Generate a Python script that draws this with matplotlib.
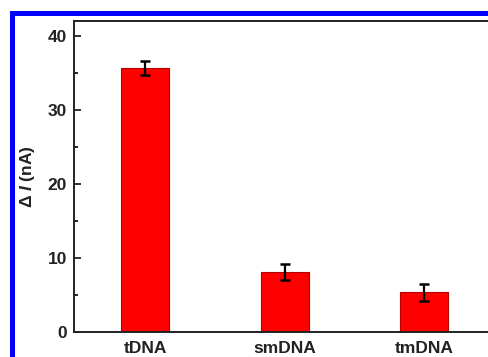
import matplotlib
matplotlib.use('Agg')
import matplotlib.pyplot as plt
from matplotlib.patches import Rectangle

# data
samples = ['tDNA', 'smDNA', 'tmDNA']
delta_i = [35.6, 8.1, 5.3]
delta_i_err = [1.0, 1.1, 1.2]

plt.rcParams['font.family'] = ['Liberation Sans', 'DejaVu Sans']
plt.rcParams['mathtext.fontset'] = 'custom'
plt.rcParams['mathtext.it'] = 'Liberation Sans:italic:bold'
plt.rcParams['mathtext.rm'] = 'Liberation Sans:bold'

fig = plt.figure(figsize=(4.88, 3.57), dpi=100)
# axes run past the right edge of the figure, like the cropped original
ax = fig.add_axes([74 / 488, 25.3 / 357, 446 / 488, 311 / 357])

x = list(range(len(samples)))
ax.bar(x, delta_i, width=0.345, color='#ff0000', edgecolor='#b00000', linewidth=0.8,
       yerr=delta_i_err, capsize=3.5, error_kw=dict(ecolor='black', elinewidth=1.6, capthick=1.8))

ax.set_xlim(-0.51, -0.51 + 446 / 139.5)
ax.set_ylim(0, 42)
ax.set_yticks([0, 10, 20, 30, 40])
ax.set_yticks([5, 15, 25, 35], minor=True)
ax.set_xticks(x)
ax.set_xticklabels(samples, fontsize=12.5, fontweight='bold')
ax.tick_params(axis='x', length=0, pad=7, colors='#222222')
ax.tick_params(axis='y', which='major', direction='in', length=5, width=1.3, pad=5,
               labelsize=12.5, colors='#222222')
ax.tick_params(axis='y', which='minor', direction='in', length=3, width=1.2)
for lbl in ax.get_yticklabels():
    lbl.set_fontweight('bold')

for side in ['left', 'bottom', 'top']:
    ax.spines[side].set_linewidth(1.4)
    ax.spines[side].set_color('#222222')
ax.spines['right'].set_visible(False)

ax.set_ylabel('Δ $\\mathit{I}$ (nA)', fontsize=12.5, fontweight='bold', color='#222222')
ax.yaxis.set_label_coords(-0.082, 0.5)

# blue frame, only top and left show in the crop
fig.add_artist(Rectangle((11.5 / 488, -0.2), 1.2, 1.2 - 12.5 / 357,
                         transform=fig.transFigure, fill=False,
                         edgecolor='#0000ff', linewidth=3.6, clip_on=False))

fig.savefig('out.png', dpi=100)
